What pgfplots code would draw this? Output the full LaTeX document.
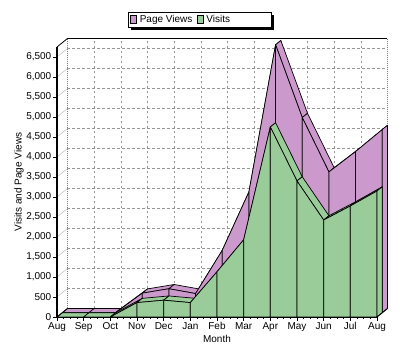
\documentclass[border=0pt]{standalone}
\usepackage{pgfplots}
\pgfplotsset{compat=1.18}
\usepackage{pgfplotstable}
\usepackage{fontspec}
\setmainfont{Liberation Sans}
\usetikzlibrary{backgrounds}
\definecolor{pvcol}{RGB}{204,153,204}
\definecolor{vcol}{RGB}{153,204,153}
\definecolor{gridgray}{RGB}{150,150,150}

\pgfplotstableread{
m v pv
0 0 0
1 0 0
2 0 0
3 360 490
4 420 600
5 360 480
6 1130 1560
7 1930 3020
8 4750 6700
9 3400 4880
10 2425 3520
11 2775 4030
12 3150 4580
}\datatable

\def\DX{0.39375}
\def\DY{212.5}

\newcommand{\ribbon}[3]{%
  \pgfmathsetmacro{\dxa}{#3*\DX}\pgfmathsetmacro{\dya}{#3*\DY}%
  \pgfmathsetmacro{\dxb}{(#3+0.5)*\DX}\pgfmathsetmacro{\dyb}{(#3+0.5)*\DY}%
  \pgfplotsinvokeforeach{0,...,11}{%
    \pgfplotstablegetelem{##1}{#1}\of\datatable \let\va\pgfplotsretval
    \pgfmathtruncatemacro{\nn}{##1+1}%
    \pgfplotstablegetelem{\nn}{#1}\of\datatable \let\vb\pgfplotsretval
    \pgfmathsetmacro{\xa}{##1+\dxa}\pgfmathsetmacro{\ya}{\va+\dya}%
    \pgfmathsetmacro{\xb}{##1+1+\dxa}\pgfmathsetmacro{\yb}{\vb+\dya}%
    \pgfmathsetmacro{\xc}{##1+1+\dxb}\pgfmathsetmacro{\yc}{\vb+\dyb}%
    \pgfmathsetmacro{\xd}{##1+\dxb}\pgfmathsetmacro{\yd}{\va+\dyb}%
    \edef\doplot{\noexpand\addplot[forget plot, fill=#2, draw=black, line width=0.7pt, line join=round] coordinates {(\xa,\ya) (\xb,\yb) (\xc,\yc) (\xd,\yd) (\xa,\ya)};}\doplot
  }%
  \pgfplotsinvokeforeach{0,...,11}{%
    \pgfplotstablegetelem{##1}{#1}\of\datatable \let\va\pgfplotsretval
    \pgfmathtruncatemacro{\nn}{##1+1}%
    \pgfplotstablegetelem{\nn}{#1}\of\datatable \let\vb\pgfplotsretval
    \pgfmathsetmacro{\xa}{##1+\dxa}\pgfmathsetmacro{\ya}{\va+\dya}%
    \pgfmathsetmacro{\xb}{##1+1+\dxa}\pgfmathsetmacro{\yb}{\vb+\dya}%
    \edef\doplot{\noexpand\addplot[forget plot, fill=#2, draw=black, line width=0.7pt, line join=round] coordinates {(\xa,\dya) (\xa,\ya) (\xb,\yb) (\xb,\dya) (\xa,\dya)};}\doplot
  }%
  \pgfplotstablegetelem{12}{#1}\of\datatable \let\va\pgfplotsretval
  \pgfmathsetmacro{\xa}{12+\dxa}\pgfmathsetmacro{\ya}{\va+\dya}%
  \pgfmathsetmacro{\xd}{12+\dxb}\pgfmathsetmacro{\yd}{\va+\dyb}%
  \edef\doplot{\noexpand\addplot[forget plot, fill=#2, draw=black, line width=0.7pt, line join=round] coordinates {(\xa,\dya) (\xa,\ya) (\xd,\yd) (\xd,\dyb) (\xa,\dya)};}\doplot
}

\begin{document}
\begin{tikzpicture}[font=\fontsize{10}{12}\selectfont]
\useasboundingbox (-57pt,-39pt) rectangle (343pt,317pt);
% back wall
\begin{axis}[
  at={(10.5pt,8.5pt)}, anchor=south west,
  scale only axis, width=320pt, height=270pt,
  xmin=0, xmax=12, ymin=0, ymax=6750,
  xtick={1,...,11}, ytick={500,1000,...,6500},
  xticklabels={}, yticklabels={},
  grid=major, major grid style={gridgray, dash pattern=on 2.5pt off 2.5pt, line width=0.6pt},
  axis line style={draw=none}, tick style={draw=none},
  clip=false,
]
\draw[black, line width=0.8pt] (rel axis cs:0,1) -- (rel axis cs:1,1);
\draw[black, line width=0.8pt] (rel axis cs:0,0) -- (rel axis cs:1,0);
\draw[gray, line width=1.6pt, dash pattern=on 1pt off 1pt] (rel axis cs:0,0) -- (rel axis cs:0,1);
\draw[gray, line width=1.6pt, dash pattern=on 1pt off 1pt] (rel axis cs:1,0) -- (rel axis cs:1,1);
\end{axis}
% front
\begin{axis}[
  at={(0pt,0pt)}, anchor=south west,
  scale only axis, width=320pt, height=270pt,
  xmin=0, xmax=12, ymin=0, ymax=6750,
  axis x line=bottom, axis y line=left,
  axis line style={-},
  x axis line style={line width=0.9pt},
  y axis line style={line width=1.6pt},
  clip=false, axis on top,
  xtick={0,...,12},
  xticklabels={Aug,Sep,Oct,Nov,Dec,Jan,Feb,Mar,Apr,May,Jun,Jul,Aug},
  minor x tick num=3,
  ytick={0,500,...,6500},
  tick align=outside,
  major tick length=4pt, minor tick length=2pt,
  tick style={black, line width=0.6pt},
  /pgf/number format/.cd, 1000 sep={,}, assume math mode=true, /pgfplots/.cd,
  yticklabel style={inner sep=1.5pt},
  xticklabel style={inner sep=1.5pt},
  xlabel={Month}, ylabel={Visits and Page Views},
  xlabel style={at={(axis description cs:0.5,-0.08)}, anchor=center},
  ylabel style={at={(axis description cs:-0.119,0.5)}, anchor=center},
  legend style={name=leg, at={(0.4453,1.1019)}, anchor=center, draw=black, fill=white,
    legend columns=2, inner xsep=2.5pt, inner ysep=1.5pt,
    nodes={inner xsep=0.5pt, inner ysep=1.5pt}},
  legend image code/.code={\draw[#1, line width=0.6pt] (0pt,-3.5pt) rectangle (6pt,4.5pt); \path (8.5pt,0pt);},
]
\pgfplotsinvokeforeach{500,1000,...,6500}{\draw[gray!60] (axis cs:0,#1) -- ++(10.5pt,8.5pt);}
\draw[black, line width=0.8pt] (axis cs:0,6750) -- ++(10.5pt,8.5pt);
\ribbon{pv}{pvcol}{0.5}
\ribbon{v}{vcol}{0}
\draw[black, line width=0.8pt] (axis cs:0,0) -- ++(10.5pt,8.5pt);
\draw[black, line width=0.8pt] (axis cs:12,0) -- ++(10.5pt,8.5pt);
\addlegendimage{fill=pvcol, draw=black}
\addlegendentry{Page Views\hspace*{4pt}}
\addlegendimage{fill=vcol, draw=black}
\addlegendentry{Visits\hspace*{38pt}}
\end{axis}
\begin{pgfonlayer}{background}
\fill[black] ([shift={(3pt,-3pt)}]leg.south west) rectangle ([shift={(3pt,-3pt)}]leg.north east);
\end{pgfonlayer}
\end{tikzpicture}
\end{document}
